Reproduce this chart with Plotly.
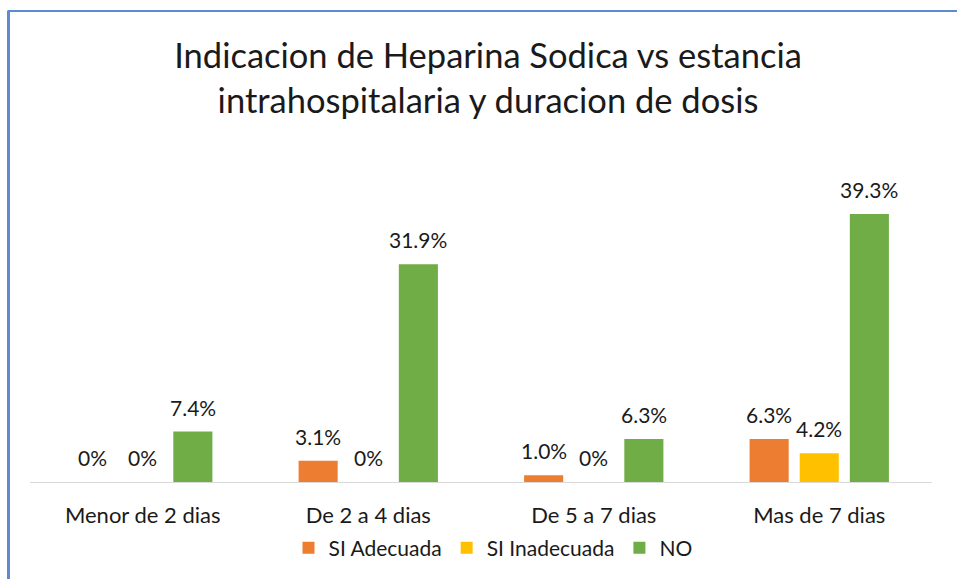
import plotly.graph_objects as go

categories = ["Menor de 2 dias", "De 2 a 4 dias", "De 5 a 7 dias", "Mas de 7 dias"]
si_adecuada = [0, 3.1, 1.0, 6.3]
si_inadecuada = [0, 0, 0, 4.2]
no_values = [7.4, 31.9, 6.3, 39.3]
series_names = ["SI Adecuada", "SI Inadecuada", "NO"]
series_colors = ["#ED7D31", "#FFC000", "#70AD47"]


def fmt(v):
    return "0%" if v == 0 else f"{v:.1f}%"


FONT = "Lato"
TXT = "#1a1a1a"
W, H = 957, 579
L, R = 30, W - 932
T, B = 180, H - 483
plot_h = H - T - B
plot_w = W - L - R
BARGAP = 0.3333

fig = go.Figure()
series = [si_adecuada, si_inadecuada, no_values]
annotations = []
for k, (name, vals, col) in enumerate(zip(series_names, series, series_colors)):
    fig.add_trace(go.Bar(
        x=categories, y=vals, name=name, marker=dict(color=col, line=dict(width=0)),
        hoverinfo="skip",
    ))
    offset = (k - 1) * (1 - BARGAP) / 3
    for i, v in enumerate(vals):
        annotations.append(dict(
            x=i + offset, y=v, xref="x", yref="y", text=fmt(v), showarrow=False,
            yanchor="bottom", xanchor="center", yshift=10,
            font=dict(family=FONT, size=21, color=TXT),
        ))

fig.update_layout(
    width=W, height=H,
    margin=dict(l=L, r=R, t=T, b=B),
    paper_bgcolor="white", plot_bgcolor="white",
    barmode="group", bargap=BARGAP, bargroupgap=0.22,
    title=dict(text="Indicacion de Heparina Sodica vs estancia<br>intrahospitalaria y duracion de dosis",
               x=488 / W, xanchor="center", y=1 - 68 / H, yanchor="middle",
               font=dict(family=FONT, size=34.5, color=TXT)),
    font=dict(family=FONT, color=TXT),
    xaxis=dict(showline=True, linecolor="#d9d9d9", linewidth=1, ticks="",
               ticklabelstandoff=14,
               tickfont=dict(family=FONT, size=22, color=TXT)),
    yaxis=dict(range=[0, plot_h / 6.845], visible=False, showgrid=False, zeroline=False),
    legend=dict(orientation="h", x=(493 - L) / plot_w, xanchor="center",
                y=(483 - 548) / plot_h, yanchor="middle",
                font=dict(family=FONT, size=21, color=TXT), traceorder="normal"),
    annotations=annotations,
    shapes=[
        dict(type="line", xref="paper", yref="paper",
             x0=(8 - L) / plot_w, x1=(W + 5 - L) / plot_w,
             y0=(H - B - 10.5) / plot_h, y1=(H - B - 10.5) / plot_h,
             line=dict(color="#5B8BD0", width=2)),
        dict(type="line", xref="paper", yref="paper",
             x0=(8.5 - L) / plot_w, x1=(8.5 - L) / plot_w,
             y0=(H - B - 10) / plot_h, y1=(H - B - H - 5) / plot_h,
             line=dict(color="#5B8BD0", width=3)),
    ],
)

fig.write_html(
    "out.html",
    config={"displayModeBar": False},
    post_script="document.body.style.margin='0';document.body.style.overflow='hidden';",
)
